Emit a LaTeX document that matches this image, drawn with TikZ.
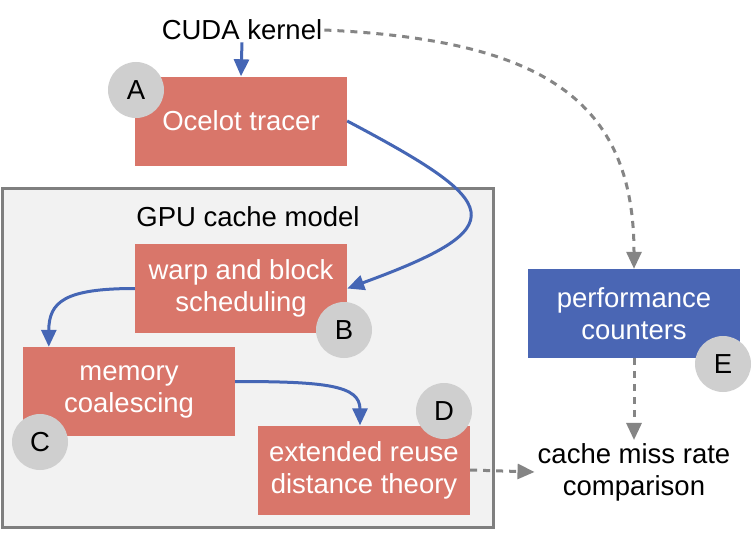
\documentclass[tikz,border=0pt]{standalone}
\usepackage{fontspec}
\setmainfont{Liberation Sans}
\usetikzlibrary{arrows.meta,calc}
\definecolor{salmon}{HTML}{D9766A}
\definecolor{boxblue}{HTML}{4A66B4}
\definecolor{arrblue}{HTML}{4566B5}
\definecolor{dgray}{HTML}{858585}
\definecolor{cgray}{HTML}{CFCFCF}
\definecolor{panel}{HTML}{F2F2F2}
\definecolor{panelline}{HTML}{7F7F7F}
\begin{document}
\begin{tikzpicture}[x=1pt,y=-1pt,
 lbl/.style={font=\fontsize{27.5}{32}\selectfont, align=center},
 stage/.style={lbl, fill=salmon, text=white, minimum width=212pt, minimum height=89pt, inner sep=0pt},
 perfbox/.style={stage, fill=boxblue},
 badge/.style={circle, fill=cgray, minimum size=56pt, inner sep=0pt, font=\fontsize{27.5}{32}\selectfont},
 container/.style={draw=panelline, fill=panel, line width=3pt, minimum width=491pt, minimum height=339pt, inner sep=0pt},
 flow/.style={draw=arrblue, line width=3pt, -{Triangle[length=17pt,width=15pt]}},
 cmp/.style={draw=dgray, line width=3pt, dash pattern=on 7pt off 6pt, -{Triangle[length=17pt,width=15pt]}},
]
\useasboundingbox (0,0) rectangle (752,535);
\fill[white] (0,0) rectangle (752,535);

\node[container] (gpu) at (247.5,357.5) {};
\node[lbl] (gputitle) at (248,217) {GPU cache model};

\node[lbl, inner sep=2pt] (cuda) at (242,30) {CUDA kernel};
\node[stage] (ocelot) at (241,121) {Ocelot tracer};
\node[stage] (warp) at (241,288.5) {warp and block\\scheduling};
\node[stage] (memory) at (129,391.5) {memory\\coalescing};
\node[stage] (reuse) at (364,470) {extended reuse\\distance theory};
\node[perfbox] (perf) at (634,313.5) {performance\\counters};
\node[lbl, inner sep=3pt] (miss) at (634,472) {cache miss rate\\comparison};

\draw[flow] (cuda.south) -- (ocelot.north);
\draw[flow] (ocelot.east) .. controls +(155,82) and +(170,-62) .. (warp.east);
\draw[flow] (warp.west) .. controls +(-70,0) and +(0,-45) .. ($(memory.north west)+(26,0)$);
\draw[flow] ($(memory.east)+(0,-10)$) .. controls +(90,0) and +(0,-40) .. ($(reuse.north)+(-4,0)$);

\draw[cmp] (cuda.east) .. controls +(218,10) and +(0,-169) .. (perf.north);
\draw[cmp] (perf.south) -- (miss.north);
\draw[cmp] (reuse.east) -- (miss.west);

\node[badge] (ba) at (136,90) {A};
\node[badge] (bb) at (344,330) {B};
\node[badge] (bc) at (40,442) {C};
\node[badge] (bd) at (444,411) {D};
\node[badge] (be) at (723,364) {E};
\end{tikzpicture}
\end{document}
